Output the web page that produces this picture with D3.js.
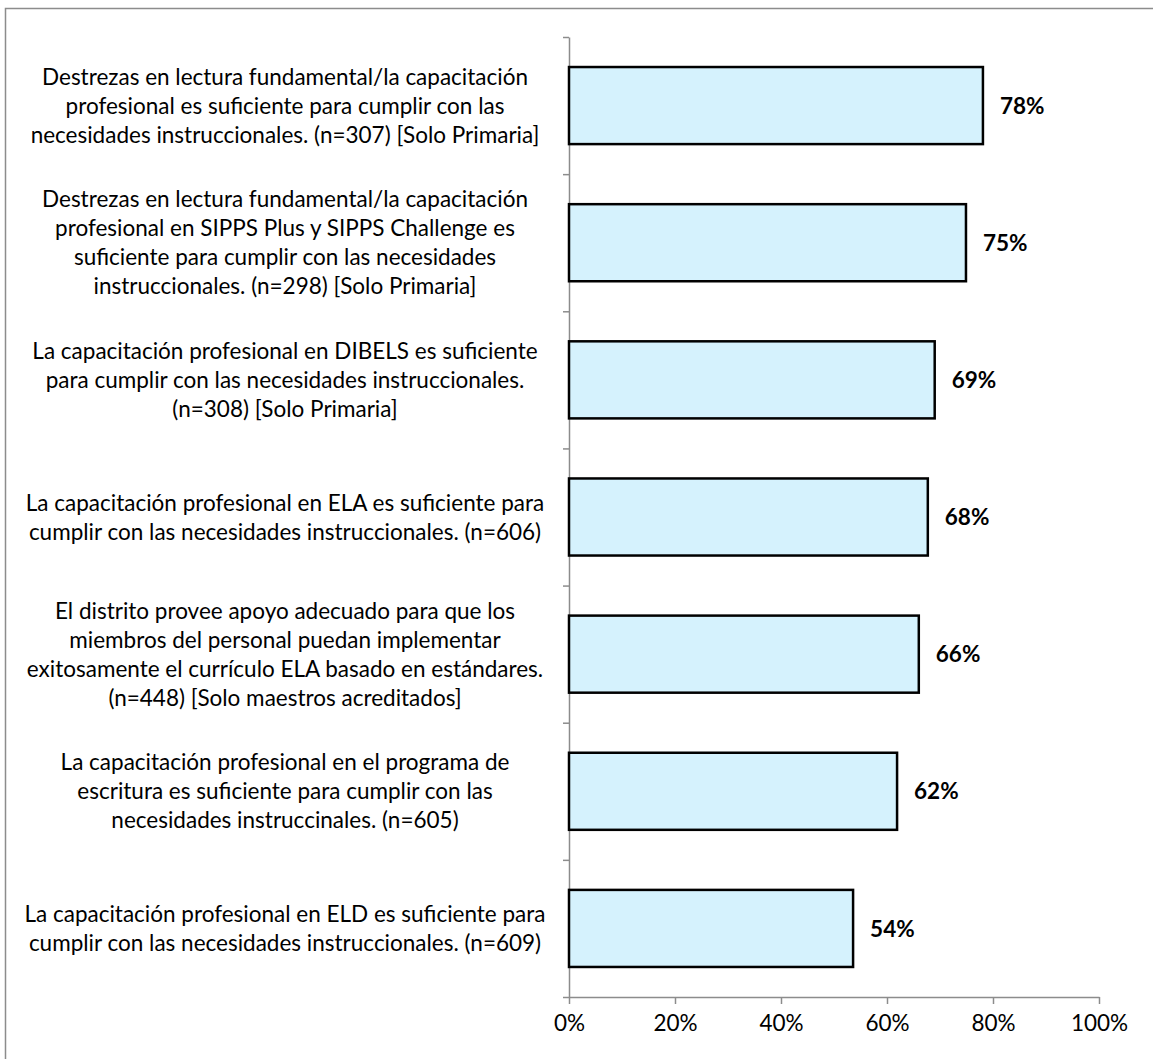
<!DOCTYPE html>
<html>
<head>
<meta charset="utf-8">
<script src="https://cdn.jsdelivr.net/npm/d3@7"></script>
<style>
  body { margin: 0; background: #fff; }
  svg text { font-family: Lato, "Open Sans", sans-serif; }
</style>
</head>
<body>
<div id="chart"></div>
<script>
// category labels, already broken into lines as in the original
const categories = [
  ["Destrezas en lectura fundamental/la capacitación",
   "profesional es suficiente para cumplir con las",
   "necesidades instruccionales. (n=307) [Solo Primaria]"],
  ["Destrezas en lectura fundamental/la capacitación",
   "profesional en SIPPS Plus y SIPPS Challenge es",
   "suficiente para cumplir con las necesidades",
   "instruccionales. (n=298) [Solo Primaria]"],
  ["La capacitación profesional en DIBELS es suficiente",
   "para cumplir con las necesidades instruccionales.",
   "(n=308) [Solo Primaria]"],
  ["La capacitación profesional en ELA es suficiente para",
   "cumplir con las necesidades instruccionales. (n=606)"],
  ["El distrito provee apoyo adecuado para que los",
   "miembros del personal puedan implementar",
   "exitosamente el currículo ELA basado en estándares.",
   "(n=448) [Solo maestros acreditados]"],
  ["La capacitación profesional en el programa de",
   "escritura es suficiente para cumplir con las",
   "necesidades instruccinales. (n=605)"],
  ["La capacitación profesional en ELD es suficiente para",
   "cumplir con las necesidades instruccionales. (n=609)"]
];
const values = [0.781, 0.749, 0.690, 0.677, 0.660, 0.619, 0.536];
const xTicks = [0, 0.2, 0.4, 0.6, 0.8, 1.0];

const W = 1153, H = 1059;
const plot = {left: 569, right: 1099, top: 37, bottom: 997};
const axisColor = "#8c8c8c";

const svg = d3.select("#chart").append("svg")
  .attr("width", W).attr("height", H);

// outer chart border (only top/left visible in original)
svg.append("rect")
  .attr("x", 5.5).attr("y", 8.5)
  .attr("width", W + 10).attr("height", H + 10)
  .attr("fill", "none").attr("stroke", "#8c8c8c").attr("stroke-width", 1.5);

const idx = d3.range(categories.length);

const x = d3.scaleLinear().domain([0, 1]).range([plot.left, plot.right]);
const y = d3.scaleBand().domain(idx)
  .range([plot.top, plot.bottom])
  .paddingInner(0.438).paddingOuter(0.219);
// boundaries between categories, for the tick marks
const yEdge = d3.scaleLinear().domain([0, categories.length]).range([plot.top, plot.bottom]);

// left axis with ticks between categories
const gy = svg.append("g")
  .attr("transform", `translate(${plot.left},0)`)
  .call(d3.axisLeft(yEdge).ticks(categories.length).tickFormat("").tickSize(6).tickSizeOuter(0));
gy.selectAll("path, line").attr("stroke", axisColor).attr("stroke-width", 1.5);

// bottom axis
const gx = svg.append("g")
  .attr("transform", `translate(0,${plot.bottom})`)
  .call(d3.axisBottom(x).tickValues(xTicks).tickFormat(d3.format(".0%")).tickSize(7).tickSizeOuter(0));
gx.selectAll("path, line").attr("stroke", axisColor).attr("stroke-width", 1.5);
gx.selectAll("text")
  .attr("font-size", 22.5).attr("fill", "#000").attr("dy", "1.05em");

// bars
svg.append("g").selectAll("rect")
  .data(idx)
  .join("rect")
  .attr("x", x(0))
  .attr("y", i => y(i))
  .attr("width", i => x(values[i]) - x(0))
  .attr("height", y.bandwidth())
  .attr("fill", "#d5f2fd")
  .attr("stroke", "#000")
  .attr("stroke-width", 2.5);

// value labels
svg.append("g").selectAll("text")
  .data(idx)
  .join("text")
  .attr("x", i => x(values[i]) + 17)
  .attr("y", i => y(i) + y.bandwidth() / 2)
  .attr("dy", "0.36em")
  .attr("font-size", 22.5)
  .attr("font-weight", "bold")
  .text(i => Math.round(values[i] * 100) + "%");

// category labels
const lineH = 29;
const labels = svg.append("g").selectAll("text")
  .data(idx)
  .join("text")
  .attr("text-anchor", "middle")
  .attr("font-size", 22.5)
  .attr("fill", "#000");
labels.each(function(i) {
  const lines = categories[i];
  const cy = y(i) + y.bandwidth() / 2;
  const y0 = cy - (lines.length - 1) * lineH / 2;
  d3.select(this).selectAll("tspan")
    .data(lines)
    .join("tspan")
    .attr("x", 285)
    .attr("y", (d, k) => y0 + k * lineH)
    .attr("dy", "0.36em")
    .text(d => d);
});
</script>
</body>
</html>
